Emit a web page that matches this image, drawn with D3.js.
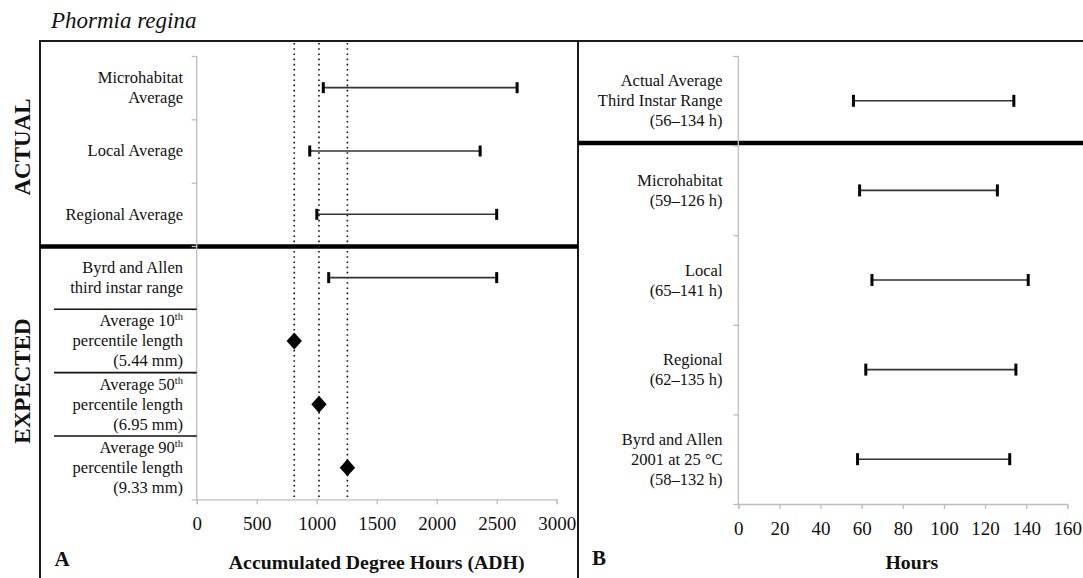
<!DOCTYPE html>
<html>
<head>
<meta charset="utf-8">
<script src="https://cdn.jsdelivr.net/npm/d3@7"></script>
<style>
  html, body { margin: 0; padding: 0; background: #fff; }
  svg { display: block; }
  text { font-family: "Liberation Serif", "Times New Roman", serif; fill: #111; }
</style>
</head>
<body>
<svg id="chart" width="1083" height="578"></svg>
<script>
// ---------- DATA ----------
const titleText = "Phormia regina";

// Panel A
const leftCats = ["Microhabitat Average", "Local Average", "Regional Average",
  "Byrd and Allen third instar range", "Average 10th percentile length (5.44 mm)",
  "Average 50th percentile length (6.95 mm)", "Average 90th percentile length (9.33 mm)"];
const leftCatLines = [
  ["Microhabitat", "Average"],
  ["Local Average"],
  ["Regional Average"],
  ["Byrd and Allen", "third instar range"],
  ["Average 10^th", "percentile length", "(5.44 mm)"],
  ["Average 50^th", "percentile length", "(6.95 mm)"],
  ["Average 90^th", "percentile length", "(9.33 mm)"]
];
const leftRangeCats = ["Microhabitat Average", "Local Average", "Regional Average", "Byrd and Allen third instar range"];
const leftRangeLow = [1055, 942, 1001, 1100];
const leftRangeHigh = [2670, 2362, 2500, 2500];
const leftPointCats = ["Average 10th percentile length (5.44 mm)", "Average 50th percentile length (6.95 mm)", "Average 90th percentile length (9.33 mm)"];
const leftPointValues = [813, 1019, 1256];
const leftRefLines = [813, 1019, 1256];
const leftTicks = [0, 500, 1000, 1500, 2000, 2500, 3000];
const leftAxisTitle = "Accumulated Degree Hours (ADH)";

// Panel B
const rightCats = ["Actual Average Third Instar Range", "Microhabitat", "Local", "Regional", "Byrd and Allen 2001 at 25 °C"];
const rightCatLines = [
  ["Actual Average", "Third Instar Range", "(56–134 h)"],
  ["Microhabitat", "(59–126 h)"],
  ["Local", "(65–141 h)"],
  ["Regional", "(62–135 h)"],
  ["Byrd and Allen", "2001 at 25 °C", "(58–132 h)"]
];
const rightLow = [56, 59, 65, 62, 58];
const rightHigh = [134, 126, 141, 135, 132];
const rightTicks = [0, 20, 40, 60, 80, 100, 120, 140, 160];
const rightAxisTitle = "Hours";

// ---------- DRAW ----------
const svg = d3.select("#chart");
const axisColor = "#bdbdbd";

// scales
const xL = d3.scaleLinear().domain([0, 3000]).range([196.7, 556.7]);
const yL = d3.scaleBand().domain(leftCats).range([56, 499.3]);
const yLIdx = d3.scaleLinear().domain([0, leftCats.length]).range([56, 499.3]);
const xR = d3.scaleLinear().domain([0, 160]).range([738.3, 1067.3]);
const yR = d3.scaleBand().domain(rightCats).range([56, 504]);
const yRIdx = d3.scaleLinear().domain([0, rightCats.length]).range([56, 504]);

// title
svg.append("text").attr("x", 51).attr("y", 27.5)
  .attr("font-size", 23).attr("font-style", "italic").text(titleText);

// frame
const frame = svg.append("g").attr("stroke", "#1a1a1a").attr("stroke-width", 2).attr("fill", "none");
frame.append("line").attr("x1", 40).attr("x2", 40).attr("y1", 40).attr("y2", 578);
frame.append("line").attr("x1", 39).attr("x2", 1083).attr("y1", 41).attr("y2", 41);
frame.append("line").attr("x1", 578).attr("x2", 578).attr("y1", 40).attr("y2", 578);

// thick separators
svg.append("line").attr("x1", 40).attr("x2", 578)
  .attr("y1", yL(leftCats[3]) + 0.5).attr("y2", yL(leftCats[3]) + 0.5)
  .attr("stroke", "#000").attr("stroke-width", 4.5);
svg.append("line").attr("x1", 578).attr("x2", 1083)
  .attr("y1", yR(rightCats[1]) - 2.5).attr("y2", yR(rightCats[1]) - 2.5)
  .attr("stroke", "#000").attr("stroke-width", 4.5);

// group labels
svg.append("text").attr("transform", "translate(30,147) rotate(-90)")
  .attr("text-anchor", "middle").attr("font-size", 23).attr("font-weight", "bold").text("ACTUAL");
svg.append("text").attr("transform", "translate(30,381) rotate(-90)")
  .attr("text-anchor", "middle").attr("font-size", 23).attr("font-weight", "bold").text("EXPECTED");

// ---- Panel A axes ----
const xAxisL = d3.axisBottom(xL).tickValues(leftTicks).tickSize(5).tickPadding(0).tickFormat(d3.format("d"));
const gxL = svg.append("g").attr("transform", `translate(0,${yLIdx(leftCats.length)})`).call(xAxisL);
gxL.select(".domain").attr("stroke", axisColor).attr("stroke-width", 1.3);
gxL.selectAll(".tick line").attr("stroke", axisColor).attr("stroke-width", 1.3);
gxL.selectAll(".tick text").attr("font-size", 19).attr("fill", "#111")
  .attr("font-family", "Liberation Serif, serif").attr("dy", null).attr("y", 31);

const yAxisL = d3.axisLeft(yLIdx).tickValues(d3.range(leftCats.length + 1)).tickSize(5).tickFormat("");
const gyL = svg.append("g").attr("transform", `translate(${xL(0)},0)`).call(yAxisL);
gyL.select(".domain").attr("stroke", axisColor).attr("stroke-width", 1.3).attr("d", `M0,${yLIdx(0)}V${yLIdx(leftCats.length)}`);
gyL.selectAll(".tick line").attr("stroke", axisColor).attr("stroke-width", 1.3);

// separator lines among EXPECTED rows
svg.append("g").selectAll("line").data(leftCats.slice(4)).join("line")
  .attr("x1", 54).attr("x2", xL(0))
  .attr("y1", d => yL(d)).attr("y2", d => yL(d))
  .attr("stroke", "#111").attr("stroke-width", 1.6);

// category labels
function drawLabels(cats, lines, yScale, xRight) {
  const g = svg.append("g");
  cats.forEach((c, i) => {
    const ls = lines[i];
    const cy = yScale(c) + yScale.bandwidth() / 2;
    const y0 = cy - (ls.length - 1) * 10;
    ls.forEach((ln, j) => {
      const t = g.append("text").attr("x", xRight).attr("y", y0 + j * 20 + 5.5)
        .attr("text-anchor", "end").attr("font-size", 16.5);
      if (ln.includes("^")) {
        const [a, b] = ln.split("^");
        t.append("tspan").text(a);
        t.append("tspan").attr("font-size", 10.5).attr("dy", -6).text(b);
      } else {
        t.text(ln);
      }
    });
  });
}
drawLabels(leftCats, leftCatLines, yL, 183);

// dotted reference lines
svg.append("g").selectAll("line").data(leftRefLines).join("line")
  .attr("x1", d => xL(d)).attr("x2", d => xL(d))
  .attr("y1", 43).attr("y2", yLIdx(leftCats.length))
  .attr("stroke", "#111").attr("stroke-width", 1.6).attr("stroke-dasharray", "1.6,3.6");

// range bars
function drawRanges(cats, lows, highs, xs, ys, capH) {
  const g = svg.append("g");
  cats.forEach((c, i) => {
    const cy = ys(c) + ys.bandwidth() / 2;
    g.append("line").attr("x1", xs(lows[i])).attr("x2", xs(highs[i]))
      .attr("y1", cy).attr("y2", cy).attr("stroke", "#333").attr("stroke-width", 1.6);
    [lows[i], highs[i]].forEach(v => {
      g.append("rect").attr("x", xs(v) - 1.5).attr("y", cy - capH / 2)
        .attr("width", 3).attr("height", capH).attr("fill", "#000");
    });
  });
}
drawRanges(leftRangeCats, leftRangeLow, leftRangeHigh, xL, yL, 11);

// diamonds
svg.append("g").selectAll("path").data(leftPointCats).join("path")
  .attr("d", d3.symbol().type(d3.symbolDiamond2).size(150))
  .attr("transform", (d, i) => `translate(${xL(leftPointValues[i])},${yL(d) + yL.bandwidth() / 2}) scale(1,1.12)`)
  .attr("fill", "#000");

// axis title / panel letter A
svg.append("text").attr("x", (xL(0) + xL(3000)) / 2).attr("y", 569)
  .attr("text-anchor", "middle").attr("font-size", 19.8).attr("font-weight", "bold").text(leftAxisTitle);
svg.append("text").attr("x", 62).attr("y", 566)
  .attr("text-anchor", "middle").attr("font-size", 21).attr("font-weight", "bold").text("A");

// ---- Panel B ----
const xAxisR = d3.axisBottom(xR).tickValues(rightTicks).tickSize(5).tickPadding(0).tickFormat(d3.format("d"));
const gxR = svg.append("g").attr("transform", `translate(0,${yRIdx(rightCats.length)})`).call(xAxisR);
gxR.select(".domain").attr("stroke", axisColor).attr("stroke-width", 1.3);
gxR.selectAll(".tick line").attr("stroke", axisColor).attr("stroke-width", 1.3);
gxR.selectAll(".tick text").attr("font-size", 19).attr("fill", "#111")
  .attr("font-family", "Liberation Serif, serif").attr("dy", null).attr("y", 31);

const yAxisR = d3.axisLeft(yRIdx).tickValues(d3.range(rightCats.length + 1)).tickSize(5).tickFormat("");
const gyR = svg.append("g").attr("transform", `translate(${xR(0)},0)`).call(yAxisR);
gyR.select(".domain").attr("stroke", axisColor).attr("stroke-width", 1.3).attr("d", `M0,${yRIdx(0)}V${yRIdx(rightCats.length)}`);
gyR.selectAll(".tick line").attr("stroke", axisColor).attr("stroke-width", 1.3);

drawLabels(rightCats, rightCatLines, yR, 722.5);
drawRanges(rightCats, rightLow, rightHigh, xR, yR, 12);

svg.append("text").attr("x", (xR(0) + xR(160)) / 2 + 9).attr("y", 569)
  .attr("text-anchor", "middle").attr("font-size", 19.8).attr("font-weight", "bold").text(rightAxisTitle);
svg.append("text").attr("x", 599).attr("y", 565)
  .attr("text-anchor", "middle").attr("font-size", 21).attr("font-weight", "bold").text("B");
</script>
</body>
</html>
